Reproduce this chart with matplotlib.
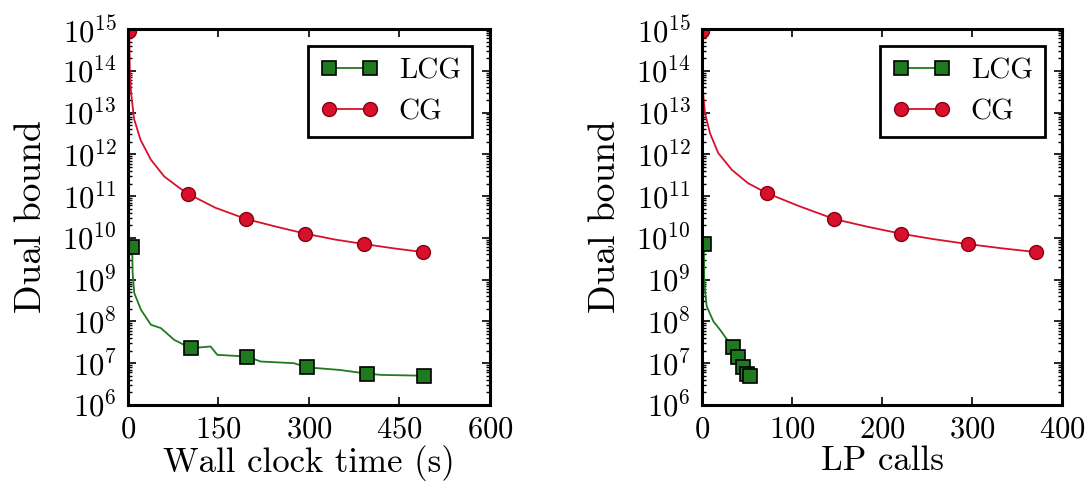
import matplotlib
matplotlib.use("Agg")
import matplotlib.pyplot as plt
from matplotlib.ticker import FixedLocator, LogFormatterSciNotation, NullFormatter
import numpy as np

# LCG vs wall clock time (s), log10 of dual bound
lcg_time = [7, 7.7, 10.4, 21.5, 38, 54.5, 76.5, 104, 137, 148, 197, 220, 275, 297, 350, 396, 420, 490]
lcg_time_logb = [9.79, 9.16, 8.68, 8.28, 7.92, 7.84, 7.56, 7.36, 7.4, 7.2, 7.16, 7.04, 7.0, 6.9, 6.84, 6.75, 6.72, 6.7]
lcg_time_marks = [0, 7, 10, 13, 15, 17]

# CG vs wall clock time (s)
cg_time = [2, 3, 5, 10, 21, 38, 60, 82, 100, 145, 196, 245, 294, 343, 392, 440, 489]
cg_time_logb = [14.95, 14.0, 13.5, 12.85, 12.34, 11.87, 11.47, 11.23, 11.05, 10.72, 10.45, 10.27, 10.1, 9.96, 9.85, 9.75, 9.66]
cg_time_marks = [0, 8, 10, 12, 14, 16]

# LCG vs LP calls
lcg_lp = [2, 2.5, 5.2, 12.6, 20, 34, 40, 46, 50, 53]
lcg_lp_logb = [9.85, 8.9, 8.36, 8.0, 7.8, 7.38, 7.16, 6.9, 6.75, 6.7]
lcg_lp_marks = [0, 5, 6, 7, 8, 9]

# CG vs LP calls
cg_lp = [0, 0.5, 1, 3.3, 8.9, 18, 33, 51, 72, 109, 147, 183, 221, 257, 296, 333, 371]
cg_lp_logb = [14.95, 14.0, 13.5, 12.98, 12.5, 12.03, 11.63, 11.31, 11.07, 10.75, 10.45, 10.27, 10.1, 9.97, 9.85, 9.75, 9.66]
cg_lp_marks = [0, 8, 10, 12, 14, 16]

GREEN = "#1f7a1f"
RED = "#d9102c"

plt.rcParams.update({
    "font.family": "serif",
    "font.serif": ["cmr10"],
    "mathtext.fontset": "cm",
    "axes.formatter.use_mathtext": True,
    "axes.unicode_minus": False,
    "xtick.direction": "in",
    "ytick.direction": "in",
    "xtick.top": True,
    "ytick.right": True,
})

decades = [10.0 ** k for k in range(6, 16)]
minor = [m * d for d in decades[:-1] for m in range(2, 10)]


def draw(ax, x_lcg, y_lcg, m_lcg, x_cg, y_cg, m_cg):
    ax.plot(x_lcg, 10 ** np.array(y_lcg), color=GREEN, lw=1.3, marker="s",
            markersize=10, markerfacecolor=GREEN, markeredgecolor="black",
            markeredgewidth=1.2, markevery=m_lcg, label="LCG")
    ax.plot(x_cg, 10 ** np.array(y_cg), color=RED, lw=1.3, marker="o",
            markersize=10, markerfacecolor=RED, markeredgecolor="#8a0010",
            markeredgewidth=1.0, markevery=m_cg, label="CG")
    ax.set_yscale("log")
    ax.set_ylim(1e6, 1e15)
    ax.yaxis.set_major_locator(FixedLocator(decades))
    ax.yaxis.set_major_formatter(LogFormatterSciNotation())
    ax.yaxis.set_minor_locator(FixedLocator(minor))
    ax.yaxis.set_minor_formatter(NullFormatter())
    ax.set_ylabel("Dual bound", fontsize=27, labelpad=10)
    ax.tick_params(which="major", labelsize=22, length=6, width=1.2, pad=8)
    ax.tick_params(which="minor", length=3, width=1)
    ax.tick_params(axis="x", which="minor", bottom=False, top=False)
    for s in ax.spines.values():
        s.set_linewidth(2.2)
    leg = ax.legend(loc="upper right", numpoints=2, fontsize=21, fancybox=False,
                    framealpha=1, edgecolor="black", handlelength=2.0,
                    handletextpad=0.7, borderaxespad=0.6)
    leg.get_frame().set_linewidth(2.0)


fig = plt.figure(figsize=(10.92, 4.91), dpi=100)
ax1 = fig.add_axes([0.1172, 0.1752, 0.3315, 0.7658])
ax2 = fig.add_axes([0.6429, 0.1752, 0.3297, 0.7658])

draw(ax1, lcg_time, lcg_time_logb, lcg_time_marks, cg_time, cg_time_logb, cg_time_marks)
ax1.set_xlim(0, 600)
ax1.xaxis.set_major_locator(FixedLocator([0, 150, 300, 450, 600]))
ax1.set_xlabel("Wall clock time (s)", fontsize=25, labelpad=1)

draw(ax2, lcg_lp, lcg_lp_logb, lcg_lp_marks, cg_lp, cg_lp_logb, cg_lp_marks)
ax2.set_xlim(0, 400)
ax2.xaxis.set_major_locator(FixedLocator([0, 100, 200, 300, 400]))
ax2.set_xlabel("LP calls", fontsize=25, labelpad=1)

fig.savefig("out.png", dpi=100)
